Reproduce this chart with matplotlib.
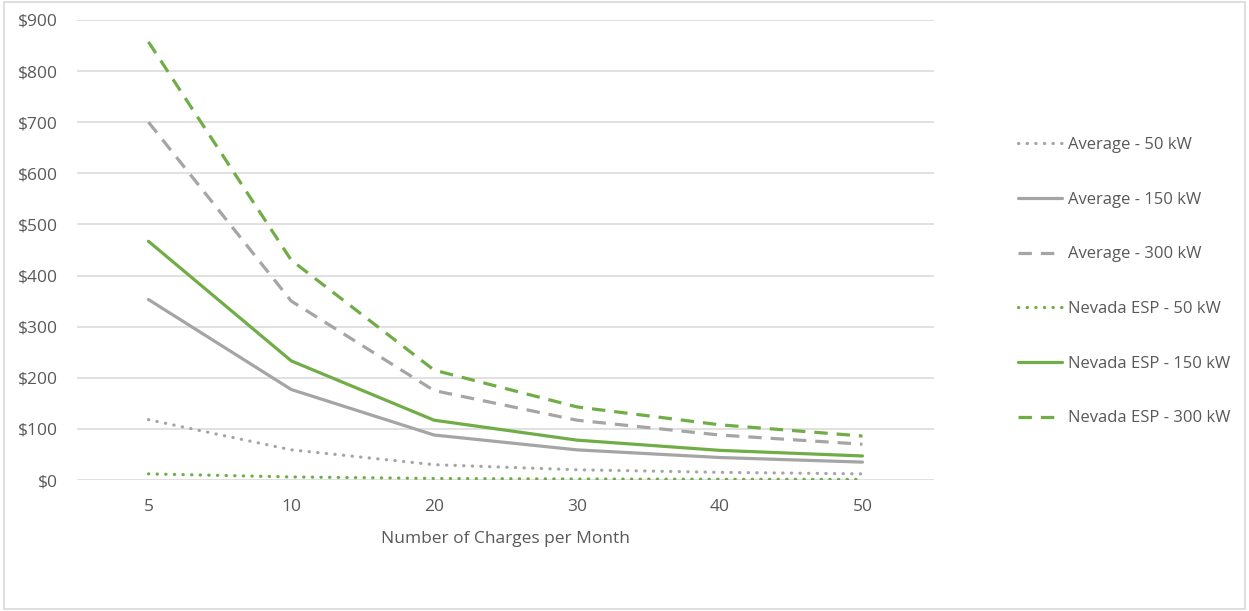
import matplotlib
matplotlib.use("Agg")
import matplotlib.pyplot as plt
from matplotlib.patches import FancyBboxPatch

# ───── Data ─────
charges = ["5", "10", "20", "30", "40", "50"]
avg_50 = [118, 59, 30, 20, 15, 12]
avg_150 = [353, 177, 88, 59, 44, 35]
avg_300 = [700, 350, 175, 117, 88, 70]
nv_50 = [12, 6, 3, 2, 1.5, 1.2]
nv_150 = [467, 233, 117, 78, 58, 47]
nv_300 = [857, 430, 215, 143, 108, 86]
yticks = [0, 100, 200, 300, 400, 500, 600, 700, 800, 900]

GREY = "#A5A5A5"
GREEN = "#70AD47"
TEXT = "#595959"
DOT = (0, (0.1, 2.6))
DASH = (0, (4.2, 2.8))

plt.rcParams["font.family"] = ["Open Sans", "DejaVu Sans"]

fig = plt.figure(figsize=(12.49, 6.11), dpi=100)
ax = fig.add_axes([0.0617, 0.2144, 0.686, 0.7530])

x = range(len(charges))
series = [
    ("Average - 50 kW", avg_50, GREY, DOT),
    ("Average - 150 kW", avg_150, GREY, "-"),
    ("Average - 300 kW", avg_300, GREY, DASH),
    ("Nevada ESP - 50 kW", nv_50, GREEN, DOT),
    ("Nevada ESP - 150 kW", nv_150, GREEN, "-"),
    ("Nevada ESP - 300 kW", nv_300, GREEN, DASH),
]
for label, vals, color, ls in series:
    ax.plot(x, vals, color=color, linestyle=ls, linewidth=2.3, label=label,
            dash_capstyle="round" if ls == DOT else "butt",
            solid_capstyle="round")

ax.set_xlim(-0.5, len(charges) - 0.5)
ax.set_ylim(0, 900)
ax.set_xticks(list(x))
ax.set_xticklabels(charges)
ax.set_yticks(yticks)
ax.set_yticklabels([f"${v}" for v in yticks])
ax.tick_params(length=0, labelsize=12.5, labelcolor=TEXT)
ax.tick_params(axis="y", pad=14)
ax.tick_params(axis="x", pad=14)
ax.grid(axis="y", color="#D9D9D9", linewidth=1.1)
ax.set_axisbelow(True)
for s in ax.spines.values():
    s.set_visible(False)
ax.set_xlabel("Number of Charges per Month", fontsize=12.5, color=TEXT, labelpad=11)

leg = ax.legend(loc="center left", bbox_to_anchor=(0.815, 0.539),
                bbox_transform=fig.transFigure, frameon=False, fontsize=12,
                handlelength=2.65, handletextpad=0.36, labelspacing=2.32,
                borderpad=0, borderaxespad=0)
for t in leg.get_texts():
    t.set_color(TEXT)

# chart area border
fig.patches.append(FancyBboxPatch((0.003, 0.004), 0.994, 0.992,
                                  boxstyle="square,pad=0", transform=fig.transFigure,
                                  facecolor="none", edgecolor="#D9D9D9", linewidth=1.2))

fig.savefig("out.png", dpi=100)
